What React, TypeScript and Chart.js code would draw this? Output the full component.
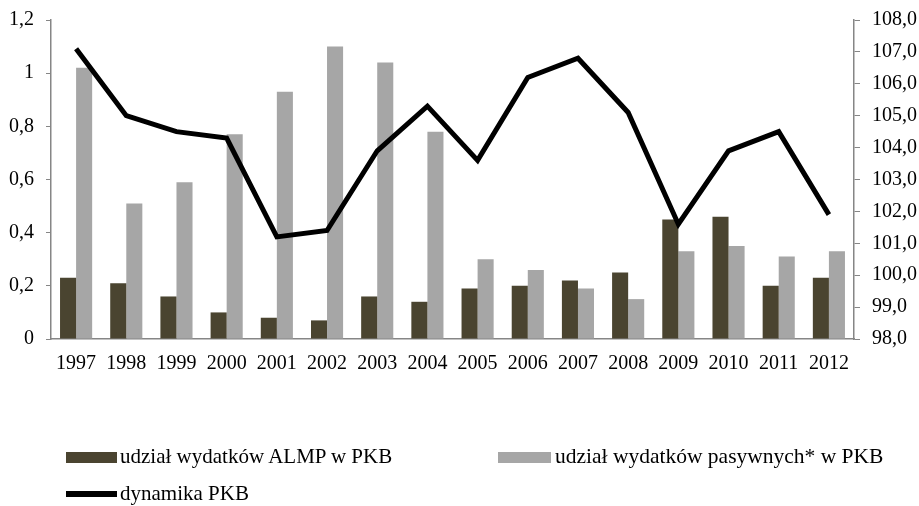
import React, { useEffect, useRef } from "react";
import { Chart, registerables } from "chart.js";

Chart.register(...registerables);

const years = ["1997","1998","1999","2000","2001","2002","2003","2004","2005","2006","2007","2008","2009","2010","2011","2012"];
const almpShare = [0.23,0.21,0.16,0.10,0.08,0.07,0.16,0.14,0.19,0.20,0.22,0.25,0.45,0.46,0.20,0.23];
const passiveShare = [1.02,0.51,0.59,0.77,0.93,1.10,1.04,0.78,0.30,0.26,0.19,0.15,0.33,0.35,0.31,0.33];
const gdpDynamics = [107.1,105.0,104.5,104.3,101.2,101.4,103.9,105.3,103.6,106.2,106.8,105.1,101.6,103.9,104.5,101.9];

const labelAlmp = "udział wydatków ALMP w PKB";
const labelPassive = "udział wydatków pasywnych* w PKB";
const labelGdp = "dynamika PKB";

const DARK = "#4a4430";
const LIGHT = "#a6a6a6";
const AXIS = "#868686";
const FONT = "'Liberation Serif', 'DejaVu Serif', serif";

export default function App() {
  const ref = useRef<HTMLCanvasElement | null>(null);
  useEffect(() => {
    if (!ref.current) return;
    const chart = new Chart(ref.current, {
      type: "bar",
      data: {
        labels: years,
        datasets: [
          { type: "line", label: labelGdp, data: gdpDynamics, yAxisID: "y2", borderColor: "#000", backgroundColor: "#000", borderWidth: 5, pointRadius: 0, tension: 0, order: 0 },
          { type: "bar", label: labelAlmp, data: almpShare, yAxisID: "y", backgroundColor: DARK, categoryPercentage: 0.64, barPercentage: 1, order: 1 },
          { type: "bar", label: labelPassive, data: passiveShare, yAxisID: "y", backgroundColor: LIGHT, categoryPercentage: 0.64, barPercentage: 1, order: 1 },
        ] as any,
      },
      options: {
        animation: false,
        responsive: false,
        maintainAspectRatio: false,
        layout: { padding: { left: 0, right: 0, top: 20, bottom: 137 } },
        plugins: { legend: { display: false }, tooltip: { enabled: false } },
        scales: {
          x: {
            grid: { display: false },
            border: { display: true, color: AXIS, width: 1.5 },
            ticks: { color: "#000", font: { family: FONT, size: 20 }, padding: 5, maxRotation: 0, autoSkip: false },
            afterFit: (s: any) => { s.height = 30; s.paddingLeft = 0; s.paddingRight = 0; },
          },
          y: {
            position: "left",
            min: 0,
            max: 1.2,
            grid: { drawOnChartArea: false, drawTicks: true, tickLength: 5, color: AXIS },
            border: { display: true, color: AXIS, width: 1.5 },
            ticks: {
              stepSize: 0.2,
              color: "#000",
              font: { family: FONT, size: 20 },
              padding: 12,
              callback: (v: any) => {
                const n = Math.round(Number(v) * 10) / 10;
                return Number.isInteger(n) ? String(n) : n.toFixed(1).replace(".", ",");
              },
            },
            afterFit: (s: any) => { s.width = 51; s.paddingTop = 0; s.paddingBottom = 0; },
          },
          y2: {
            position: "right",
            min: 98,
            max: 108,
            grid: { drawOnChartArea: false, drawTicks: true, tickLength: 6, color: AXIS },
            border: { display: true, color: AXIS, width: 1.5 },
            ticks: {
              stepSize: 1,
              color: "#000",
              font: { family: FONT, size: 20 },
              padding: 12,
              callback: (v: any) => Number(v).toFixed(1).replace(".", ","),
            },
            afterFit: (s: any) => { s.width = 65; s.paddingTop = 0; s.paddingBottom = 0; },
          },
        },
      } as any,
    });
    return () => chart.destroy();
  }, []);

  const legendText: React.CSSProperties = { position: "absolute", fontFamily: FONT, fontSize: 21, color: "#000", whiteSpace: "nowrap", lineHeight: "24px" };
  return (
    <div style={{ position: "absolute", left: 0, top: 0, width: 919, height: 506, background: "#fff" }}>
      <canvas ref={ref} width={919} height={506} style={{ position: "absolute", left: 0, top: 0 }} />
      <div style={{ position: "absolute", left: 66, top: 452, width: 51, height: 11, background: DARK }} />
      <div style={{ ...legendText, left: 120, top: 444 }}>{labelAlmp}</div>
      <div style={{ position: "absolute", left: 498, top: 452, width: 53, height: 11, background: LIGHT }} />
      <div style={{ ...legendText, left: 555, top: 444, fontSize: 21.5 }}>{labelPassive}</div>
      <div style={{ position: "absolute", left: 66, top: 491, width: 51, height: 6, background: "#000" }} />
      <div style={{ ...legendText, left: 120, top: 481 }}>{labelGdp}</div>
    </div>
  );
}
